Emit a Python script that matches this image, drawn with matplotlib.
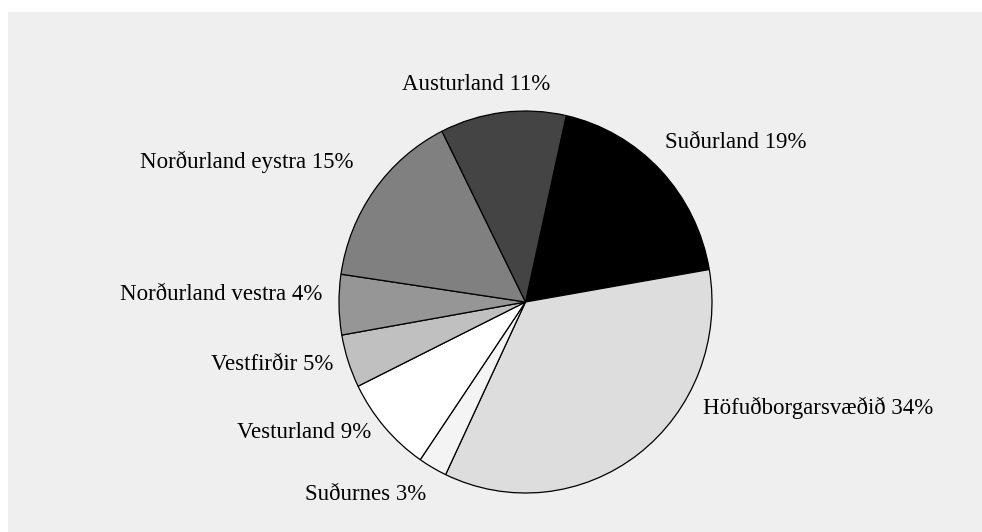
import matplotlib
matplotlib.use('Agg')
import matplotlib.pyplot as plt
from matplotlib.patches import Rectangle

plt.rcParams['font.family'] = ['Liberation Serif', 'DejaVu Serif']

#%% Data (clockwise from top)
regions = ['Suðurland', 'Höfuðborgarsvæðið', 'Suðurnes', 'Vesturland',
           'Vestfirðir', 'Norðurland vestra', 'Norðurland eystra', 'Austurland']
shares = [18.8, 34.8, 2.5, 8.2, 4.5, 5.1, 15.3, 10.9]
pct_text = ['19%', '34%', '3%', '9%', '5%', '4%', '15%', '11%']
colors = ['#000000', '#dddddd', '#f4f4f4', '#ffffff',
          '#c0c0c0', '#969696', '#808080', '#444444']

# label anchors in pixels (x, y, ha)
label_pos = [(665, 142, 'left'), (703, 408, 'left'), (305, 495, 'left'),
             (237, 433, 'left'), (333, 365, 'right'), (322, 295, 'right'),
             (353, 162, 'right'), (476, 85, 'center')]

W, H = 982, 532
fig = plt.figure(figsize=(W / 100, H / 100), dpi=100)
fig.patch.set_facecolor('white')
fig.patches.append(Rectangle((8 / W, 0), 1 - 8 / W, (H - 12) / H,
                             transform=fig.transFigure, facecolor='#efefef',
                             edgecolor='none', zorder=-10))

# pie axes: x 339..712, y 111..493 (pixels from top)
ax = fig.add_axes([339 / W, 1 - 493 / H, (712 - 339) / W, (493 - 111) / H])
ax.set_zorder(5)
ax.pie(shares, colors=colors, startangle=90 - 12.6, counterclock=False,
       radius=1, wedgeprops={'edgecolor': 'black', 'linewidth': 0.9})
ax.set_aspect('auto')
ax.set_xlim(-1, 1)
ax.set_ylim(-1, 1)
ax.axis('off')

for name, p, (x, y, ha) in zip(regions, pct_text, label_pos):
    fig.text(x / W, 1 - y / H, f'{name} {p}', ha=ha, va='center',
             fontsize=16.5, color='black', zorder=6)

fig.savefig('out.png', dpi=100)
